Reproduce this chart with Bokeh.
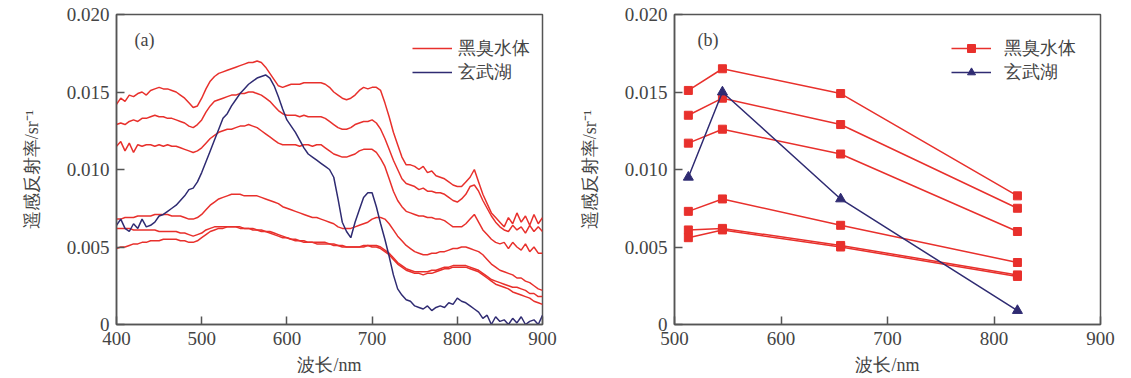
from bokeh.plotting import figure
from bokeh.models import (Range1d, FixedTicker, CustomJSTickFormatter, Legend,
                          LegendItem, Label)
from bokeh.layouts import row
from bokeh.embed import file_html
from bokeh.resources import INLINE

# ---------------- data: panel (a) spectra ----------------
wavelength = [400, 405, 410, 415, 420, 425, 430, 435, 440, 445, 450, 455, 460, 465, 470, 475, 480, 485, 490, 495,
              500, 505, 510, 515, 520, 525, 530, 535, 540, 545, 550, 555, 560, 565, 570, 575, 580, 585, 590, 595,
              600, 605, 610, 615, 620, 625, 630, 635, 640, 645, 650, 655, 660, 665, 670, 675, 680, 685, 690, 695,
              700, 705, 710, 715, 720, 725, 730, 735, 740, 745, 750, 755, 760, 765, 770, 775, 780, 785, 790, 795,
              800, 805, 810, 815, 820, 825, 830, 835, 840, 845, 850, 855, 860, 865, 870, 875, 880, 885, 890, 895, 900]

black_odor_1 = [0.0142, 0.0146, 0.0144, 0.0148, 0.0147, 0.0149, 0.0150, 0.0148, 0.0151, 0.0152, 0.0153, 0.0152, 0.0152, 0.0151, 0.0150, 0.0148, 0.0146, 0.0143, 0.0140, 0.0141,
                0.0146, 0.0152, 0.0157, 0.0160, 0.0162, 0.0163, 0.0164, 0.0165, 0.0166, 0.0167, 0.0168, 0.0169, 0.0169, 0.0170, 0.0169, 0.0166, 0.0162, 0.0158, 0.0154, 0.0153,
                0.0154, 0.0155, 0.0155, 0.0155, 0.0156, 0.0156, 0.0156, 0.0156, 0.0156, 0.0155, 0.0153, 0.0150, 0.0148, 0.0146, 0.0145, 0.0146, 0.0148, 0.0151, 0.0153, 0.0152,
                0.0153, 0.0153, 0.0151, 0.0143, 0.0134, 0.0124, 0.0116, 0.0108, 0.0103, 0.0103, 0.0102, 0.0100, 0.0102, 0.0098, 0.0099, 0.0096, 0.0095, 0.0094, 0.0092, 0.0090,
                0.0089, 0.0089, 0.0092, 0.0095, 0.0100, 0.0092, 0.0084, 0.0078, 0.0072, 0.0069, 0.0066, 0.0063, 0.0069, 0.0065, 0.0072, 0.0066, 0.0070, 0.0064, 0.0071, 0.0065, 0.0069]

black_odor_2 = [0.0129, 0.0130, 0.0129, 0.0131, 0.0132, 0.0131, 0.0133, 0.0133, 0.0134, 0.0135, 0.0134, 0.0134, 0.0133, 0.0133, 0.0132, 0.0131, 0.0130, 0.0128, 0.0127, 0.0129,
                0.0132, 0.0137, 0.0141, 0.0144, 0.0145, 0.0146, 0.0147, 0.0148, 0.0148, 0.0149, 0.0149, 0.0150, 0.0150, 0.0149, 0.0148, 0.0146, 0.0144, 0.0141, 0.0138, 0.0136,
                0.0135, 0.0135, 0.0135, 0.0134, 0.0135, 0.0134, 0.0134, 0.0134, 0.0134, 0.0133, 0.0131, 0.0129, 0.0127, 0.0126, 0.0126, 0.0127, 0.0129, 0.0130, 0.0131, 0.0131,
                0.0132, 0.0130, 0.0126, 0.0120, 0.0113, 0.0106, 0.0100, 0.0094, 0.0091, 0.0090, 0.0089, 0.0087, 0.0088, 0.0086, 0.0086, 0.0085, 0.0085, 0.0084, 0.0082, 0.0080,
                0.0079, 0.0081, 0.0084, 0.0089, 0.0090, 0.0086, 0.0080, 0.0075, 0.0070, 0.0066, 0.0063, 0.0061, 0.0060, 0.0064, 0.0061, 0.0063, 0.0059, 0.0064, 0.0060, 0.0063, 0.0060]

black_odor_3 = [0.0115, 0.0118, 0.0112, 0.0117, 0.0111, 0.0116, 0.0115, 0.0116, 0.0116, 0.0115, 0.0116, 0.0115, 0.0116, 0.0115, 0.0115, 0.0114, 0.0113, 0.0112, 0.0111, 0.0112,
                0.0114, 0.0117, 0.0120, 0.0122, 0.0124, 0.0125, 0.0126, 0.0126, 0.0127, 0.0128, 0.0128, 0.0129, 0.0128, 0.0127, 0.0125, 0.0123, 0.0121, 0.0119, 0.0117, 0.0116,
                0.0116, 0.0116, 0.0116, 0.0115, 0.0116, 0.0116, 0.0115, 0.0116, 0.0116, 0.0114, 0.0112, 0.0110, 0.0109, 0.0108, 0.0108, 0.0109, 0.0110, 0.0112, 0.0113, 0.0113,
                0.0113, 0.0111, 0.0107, 0.0102, 0.0094, 0.0086, 0.0080, 0.0076, 0.0073, 0.0072, 0.0071, 0.0070, 0.0070, 0.0069, 0.0069, 0.0068, 0.0068, 0.0067, 0.0065, 0.0063,
                0.0063, 0.0063, 0.0065, 0.0068, 0.0071, 0.0066, 0.0061, 0.0058, 0.0055, 0.0053, 0.0052, 0.0053, 0.0049, 0.0053, 0.0050, 0.0048, 0.0052, 0.0047, 0.0050, 0.0046, 0.0046]

black_odor_4 = [0.0068, 0.0068, 0.0069, 0.0069, 0.0069, 0.0070, 0.0070, 0.0070, 0.0070, 0.0071, 0.0071, 0.0071, 0.0071, 0.0070, 0.0070, 0.0070, 0.0069, 0.0068, 0.0068, 0.0069,
                0.0071, 0.0074, 0.0077, 0.0079, 0.0081, 0.0082, 0.0083, 0.0084, 0.0084, 0.0084, 0.0083, 0.0083, 0.0083, 0.0083, 0.0082, 0.0081, 0.0080, 0.0079, 0.0078, 0.0076,
                0.0075, 0.0074, 0.0073, 0.0072, 0.0071, 0.0070, 0.0069, 0.0069, 0.0068, 0.0067, 0.0066, 0.0065, 0.0063, 0.0062, 0.0062, 0.0062, 0.0063, 0.0064, 0.0065, 0.0066,
                0.0068, 0.0069, 0.0069, 0.0068, 0.0065, 0.0061, 0.0057, 0.0054, 0.0051, 0.0049, 0.0047, 0.0046, 0.0045, 0.0045, 0.0046, 0.0046, 0.0047, 0.0047, 0.0048, 0.0049,
                0.0049, 0.0050, 0.0050, 0.0049, 0.0048, 0.0047, 0.0045, 0.0042, 0.0039, 0.0037, 0.0035, 0.0034, 0.0033, 0.0032, 0.0030, 0.0030, 0.0028, 0.0027, 0.0025, 0.0023, 0.0022]

black_odor_5 = [0.0062, 0.0062, 0.0062, 0.0062, 0.0061, 0.0061, 0.0061, 0.0061, 0.0061, 0.0061, 0.0060, 0.0060, 0.0060, 0.0060, 0.0060, 0.0059, 0.0059, 0.0058, 0.0057, 0.0058,
                0.0059, 0.0061, 0.0062, 0.0063, 0.0063, 0.0063, 0.0063, 0.0063, 0.0063, 0.0063, 0.0062, 0.0062, 0.0062, 0.0061, 0.0061, 0.0060, 0.0060, 0.0059, 0.0058, 0.0057,
                0.0056, 0.0055, 0.0055, 0.0054, 0.0054, 0.0053, 0.0053, 0.0053, 0.0053, 0.0053, 0.0052, 0.0052, 0.0051, 0.0051, 0.0050, 0.0050, 0.0050, 0.0050, 0.0051, 0.0051,
                0.0051, 0.0051, 0.0050, 0.0048, 0.0046, 0.0043, 0.0040, 0.0038, 0.0036, 0.0035, 0.0034, 0.0034, 0.0034, 0.0034, 0.0035, 0.0035, 0.0036, 0.0037, 0.0037, 0.0038,
                0.0038, 0.0038, 0.0038, 0.0037, 0.0036, 0.0035, 0.0033, 0.0031, 0.0029, 0.0028, 0.0027, 0.0026, 0.0025, 0.0024, 0.0024, 0.0023, 0.0022, 0.0020, 0.0020, 0.0018, 0.0018]

black_odor_6 = [0.0049, 0.0050, 0.0050, 0.0051, 0.0052, 0.0052, 0.0053, 0.0053, 0.0054, 0.0054, 0.0054, 0.0055, 0.0055, 0.0055, 0.0055, 0.0054, 0.0054, 0.0053, 0.0053, 0.0054,
                0.0056, 0.0058, 0.0060, 0.0061, 0.0062, 0.0062, 0.0063, 0.0063, 0.0063, 0.0062, 0.0062, 0.0062, 0.0061, 0.0061, 0.0060, 0.0060, 0.0059, 0.0058, 0.0057, 0.0056,
                0.0056, 0.0055, 0.0054, 0.0054, 0.0053, 0.0053, 0.0053, 0.0052, 0.0052, 0.0052, 0.0052, 0.0051, 0.0051, 0.0050, 0.0050, 0.0050, 0.0050, 0.0050, 0.0050, 0.0051,
                0.0050, 0.0050, 0.0049, 0.0047, 0.0045, 0.0042, 0.0039, 0.0037, 0.0035, 0.0034, 0.0033, 0.0033, 0.0032, 0.0033, 0.0033, 0.0034, 0.0035, 0.0036, 0.0036, 0.0037,
                0.0037, 0.0037, 0.0037, 0.0036, 0.0035, 0.0034, 0.0032, 0.0030, 0.0028, 0.0026, 0.0025, 0.0024, 0.0023, 0.0021, 0.0020, 0.0019, 0.0018, 0.0017, 0.0015, 0.0014, 0.0013]

xuanwu_lake = [0.0064, 0.0068, 0.0062, 0.0060, 0.0065, 0.0062, 0.0068, 0.0063, 0.0064, 0.0066, 0.0070, 0.0071, 0.0073, 0.0075, 0.0077, 0.0080, 0.0083, 0.0087, 0.0088, 0.0092,
               0.0098, 0.0105, 0.0112, 0.0119, 0.0126, 0.0133, 0.0136, 0.0141, 0.0145, 0.0149, 0.0152, 0.0155, 0.0157, 0.0159, 0.0160, 0.0161, 0.0159, 0.0154, 0.0147, 0.0139,
               0.0132, 0.0128, 0.0124, 0.0119, 0.0114, 0.0110, 0.0108, 0.0106, 0.0104, 0.0102, 0.0100, 0.0095, 0.0081, 0.0066, 0.0060, 0.0056, 0.0066, 0.0074, 0.0082, 0.0085,
               0.0085, 0.0076, 0.0065, 0.0055, 0.0044, 0.0032, 0.0023, 0.0019, 0.0016, 0.0015, 0.0012, 0.0011, 0.0010, 0.0012, 0.0009, 0.0011, 0.0012, 0.0011, 0.0014, 0.0013,
               0.0017, 0.0015, 0.0014, 0.0012, 0.0010, 0.0008, 0.0004, 0.0006, 0.0000, 0.0005, 0.0002, 0.0003, 0.0000, 0.0004, 0.0001, 0.0005, 0.0000, 0.0002, 0.0003, 0.0000, 0.0006]

# ---------------- data: panel (b) band values ----------------
band_wavelength = [513, 545, 656, 822]
band_black_1 = [0.0151, 0.0165, 0.0149, 0.0083]
band_black_2 = [0.0135, 0.0146, 0.0129, 0.0075]
band_black_3 = [0.0117, 0.0126, 0.0110, 0.0060]
band_black_4 = [0.0073, 0.0081, 0.0064, 0.0040]
band_black_5 = [0.0061, 0.0062, 0.0051, 0.0032]
band_black_6 = [0.0056, 0.0061, 0.0050, 0.0031]
band_xuanwu = [0.0095, 0.0150, 0.0081, 0.0009]

y_ticks = [0, 0.005, 0.010, 0.015, 0.020]
x_ticks_a = [400, 500, 600, 700, 800, 900]
x_ticks_b = [500, 600, 700, 800, 900]
legend_labels = ["黑臭水体", "玄武湖"]
x_label = "波长/nm"
y_label = "遥感反射率/sr⁻¹"

RED = "#e8302c"
BLUE = "#2f2b72"
AXIS = "#555555"
TEXT = "#444444"
SERIF = "Liberation Serif"


def style(p, xticks):
    p.grid.visible = False
    p.outline_line_color = AXIS
    p.outline_line_width = 1.5
    p.outline_line_alpha = 1.0
    p.background_fill_color = "white"
    p.border_fill_color = "white"
    p.xaxis.ticker = FixedTicker(ticks=xticks)
    p.yaxis.ticker = FixedTicker(ticks=y_ticks)
    p.yaxis.formatter = CustomJSTickFormatter(
        code="return tick == 0 ? '0' : tick.toFixed(3);")
    for ax in (p.xaxis[0], p.yaxis[0]):
        ax.major_tick_in = 8
        ax.major_tick_out = 0
        ax.minor_tick_line_color = None
        ax.axis_line_color = AXIS
        ax.axis_line_width = 1.5
        ax.major_tick_line_color = AXIS
        ax.major_tick_line_width = 1.5
        ax.major_label_text_font = SERIF
        ax.major_label_text_font_size = "19px"
        ax.major_label_text_color = TEXT
        ax.axis_label_text_font = SERIF
        ax.axis_label_text_font_size = "18px"
        ax.axis_label_text_font_style = "normal"
        ax.axis_label_text_color = TEXT
    p.xaxis.axis_label = x_label
    p.yaxis.axis_label = y_label
    p.xaxis.major_label_standoff = 7
    p.xaxis.axis_label_standoff = 7
    p.yaxis.major_label_standoff = 7
    p.yaxis.axis_label_standoff = 22


def make_legend(items, x, y, standoff):
    lg = Legend(items=items, location=(x, y), orientation="vertical",
                glyph_width=40, glyph_height=20, label_height=20,
                label_standoff=standoff, spacing=-2, padding=0, margin=0,
                border_line_color=None, background_fill_alpha=0.0,
                label_text_font=SERIF, label_text_font_size="18px",
                label_text_color=TEXT)
    return lg


# ---------------- panel (a) ----------------
pa = figure(frame_width=426, frame_height=310,
            min_border_left=116, min_border_right=20,
            min_border_top=14, min_border_bottom=46,
            x_range=Range1d(400, 900), y_range=Range1d(0, 0.020),
            output_backend="svg", toolbar_location=None)
style(pa, x_ticks_a)

red_series = [black_odor_1, black_odor_2, black_odor_3,
              black_odor_4, black_odor_5, black_odor_6]
red_renderers = []
for ys in red_series:
    red_renderers.append(pa.line(wavelength, ys, line_color=RED, line_width=1.5))
blue_r = pa.line(wavelength, xuanwu_lake, line_color=BLUE, line_width=1.5)

pa.add_layout(make_legend([LegendItem(label=legend_labels[0], renderers=[red_renderers[0]]),
                           LegendItem(label=legend_labels[1], renderers=[blue_r])],
                          296, 240, 6))
pa.add_layout(Label(x=18, y=285, x_units="screen", y_units="screen", text="(a)",
                    text_font=SERIF, text_font_size="18px", text_color=TEXT,
                    text_baseline="middle"))

# ---------------- panel (b) ----------------
pb = figure(frame_width=426, frame_height=310,
            min_border_left=112, min_border_right=16,
            min_border_top=14, min_border_bottom=46,
            x_range=Range1d(500, 900), y_range=Range1d(0, 0.020),
            output_backend="svg", toolbar_location=None)
style(pb, x_ticks_b)

band_red = [band_black_1, band_black_2, band_black_3,
            band_black_4, band_black_5, band_black_6]
first_red = None
for ys in band_red:
    l = pb.line(band_wavelength, ys, line_color=RED, line_width=1.5)
    s = pb.scatter(band_wavelength, ys, marker="square", size=8,
                   fill_color=RED, line_color=RED)
    if first_red is None:
        first_red = [l, s]
bl = pb.line(band_wavelength, band_xuanwu, line_color=BLUE, line_width=1.5)
bs = pb.scatter(band_wavelength, band_xuanwu, marker="triangle", size=10,
                fill_color=BLUE, line_color=BLUE)

pb.add_layout(make_legend([LegendItem(label=legend_labels[0], renderers=first_red),
                           LegendItem(label=legend_labels[1], renderers=[bl, bs])],
                          277, 240, 13))
pb.add_layout(Label(x=23, y=285, x_units="screen", y_units="screen", text="(b)",
                    text_font=SERIF, text_font_size="18px", text_color=TEXT,
                    text_baseline="middle"))

layout = row(pa, pb)
open("out.html", "w").write(file_html(layout, INLINE))
